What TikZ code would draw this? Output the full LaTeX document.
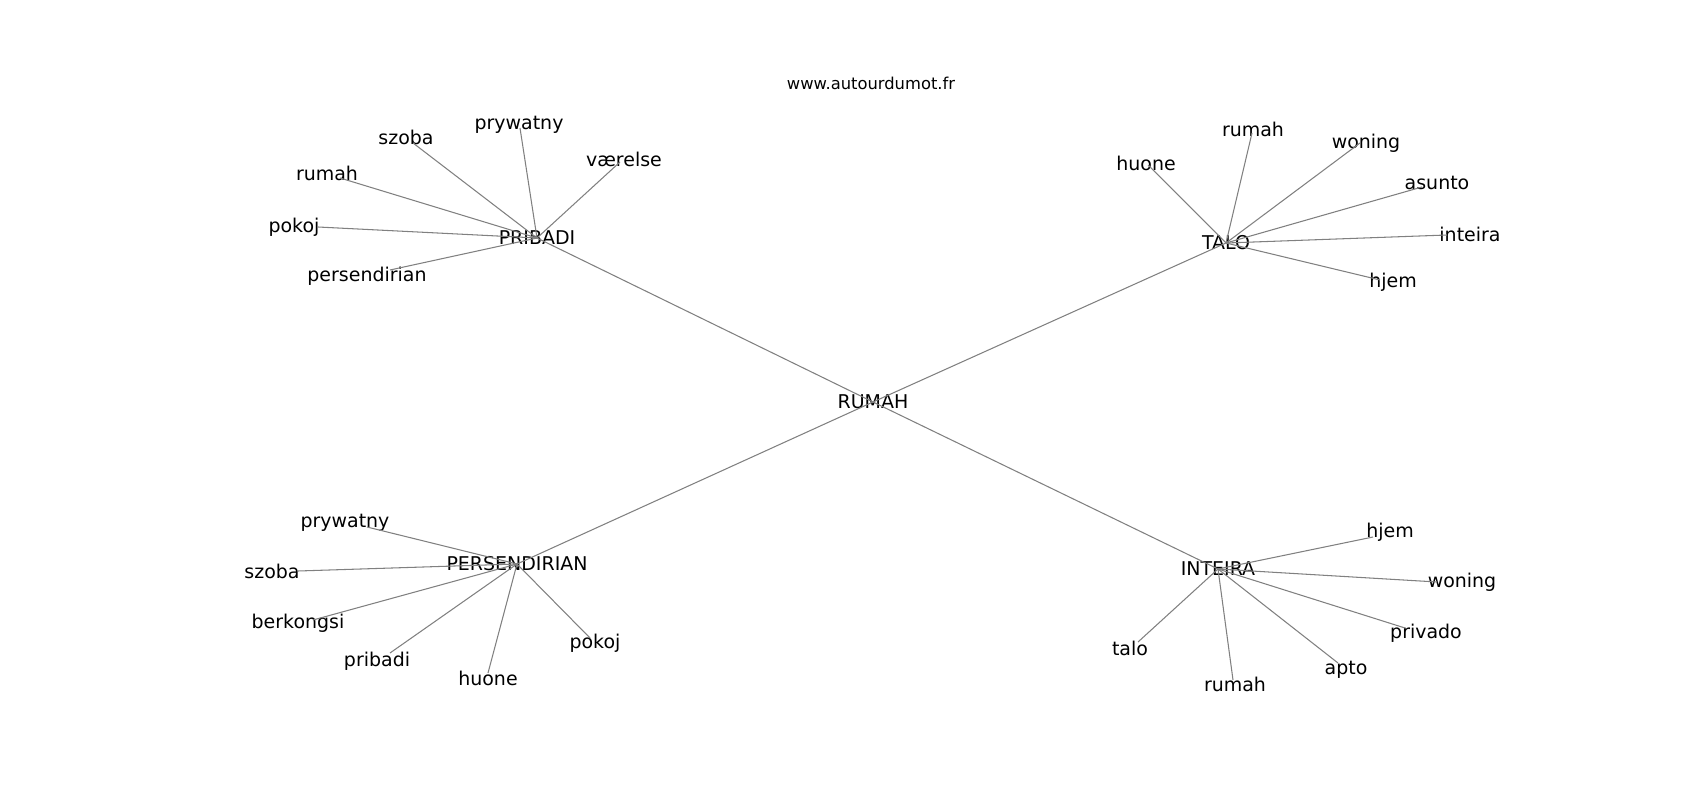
\documentclass[tikz,border=0pt]{standalone}
\usepackage{fontspec}
\setmainfont{DejaVu Sans}
\usetikzlibrary{positioning}

\begin{document}
\begin{tikzpicture}[
  x=0.02cm, y=-0.02cm,
  word/.style={inner sep=0pt, font=\fontsize{10.8}{12}\selectfont}, % every label
  link/.style={draw=black!50, line width=0.6pt}, % every edge
  sitename/.style={inner sep=0pt, font=\fontsize{9.3}{11}\selectfont}
]
\useasboundingbox (0,0) rectangle (1700,800);
% title
\node[sitename] (title) at (871,83) {www.autourdumot.fr};
% centre and the four hubs
\node[word] (rumah) at (873,402) {RUMAH};
\node[word] (pribadi) at (537,238) {PRIBADI};
\node[word] (talo) at (1226,243) {TALO};
\node[word] (persendirian) at (517,564) {PERSENDIRIAN};
\node[word] (inteira) at (1218,569) {INTEIRA};
\foreach \h in {pribadi, talo, persendirian, inteira}
  \draw[link] (rumah.center) -- (\h.center);
% leaves: hub / name / edge end / label centre / text
\foreach \hub/\id/\ex/\ey/\lx/\ly/\w in {
    pribadi/pb-szoba/413/143/406/137/szoba,
    pribadi/pb-prywatny/520/128/519/125/prywatny,
    pribadi/pb-vaerelse/620/162/624/159/værelse,
    pribadi/pb-rumah/340/178/327/173/rumah,
    pribadi/pb-pokoj/318/227/294/227/pokoj,
    pribadi/pb-persendirian/390/270/367/276/persendirian,
    talo/tl-huone/1148/165/1146/163/huone,
    talo/tl-rumah/1252/133/1253/129/rumah,
    talo/tl-woning/1360/143/1366/143/woning,
    talo/tl-asunto/1422/187/1437/183/asunto,
    talo/tl-inteira/1447/235/1470/234/inteira,
    talo/tl-hjem/1380/280/1393/282/hjem,
    persendirian/ps-prywatny/367/527/345/523/prywatny,
    persendirian/ps-szoba/298/571/272/571/szoba,
    persendirian/ps-berkongsi/313/620/298/623/berkongsi,
    persendirian/ps-pribadi/390/653/377/661/pribadi,
    persendirian/ps-huone/488/673/488/678/huone,
    persendirian/ps-pokoj/590/638/595/643/pokoj,
    inteira/it-hjem/1373/537/1390/532/hjem,
    inteira/it-woning/1437/582/1462/582/woning,
    inteira/it-privado/1405/628/1426/633/privado,
    inteira/it-apto/1338/663/1346/670/apto,
    inteira/it-rumah/1233/680/1235/684/rumah,
    inteira/it-talo/1138/642/1130/648/talo}
{
  \coordinate (\id) at (\ex,\ey);
  \node[word] (\id-t) at (\lx,\ly) {\w};
  \draw[link] (\hub.center) -- (\id);
}
\end{tikzpicture}
\end{document}
